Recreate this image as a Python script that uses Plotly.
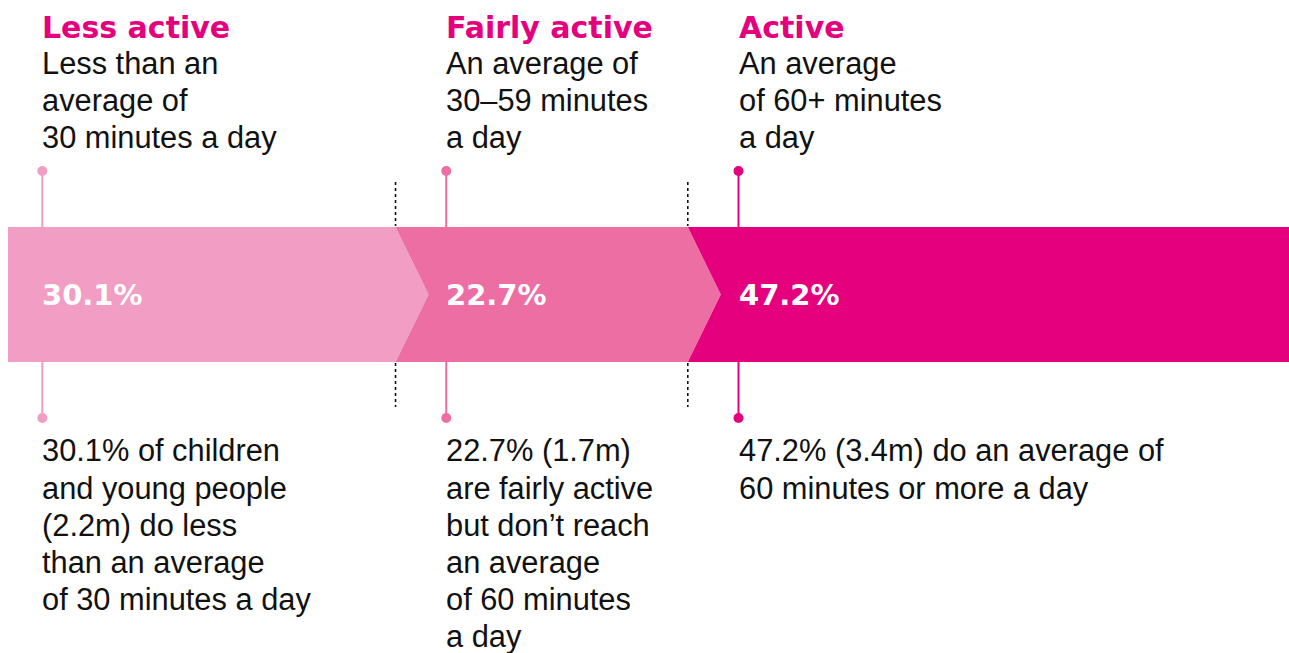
import plotly.graph_objects as go

# ---------------- data ----------------
categories = ["Less active", "Fairly active", "Active"]
shares = [30.1, 22.7, 47.2]
share_labels = ["30.1%", "22.7%", "47.2%"]
descriptions = [
    ["Less than an", "average of", "30 minutes a day"],
    ["An average of", "30–59 minutes", "a day"],
    ["An average", "of 60+ minutes", "a day"],
]
details = [
    ["30.1% of children", "and young people", "(2.2m) do less",
     "than an average", "of 30 minutes a day"],
    ["22.7% (1.7m)", "are fairly active", "but don’t reach",
     "an average", "of 60 minutes", "a day"],
    ["47.2% (3.4m) do an average of", "60 minutes or more a day"],
]
colors = ["#F29DC3", "#EC6EA2", "#E5007E"]
accent = "#E5007E"

# ---------------- layout constants ----------------
W, H = 1289, 653
LEFT_PX = 8
PX_PER_PCT = 12.875
BAND_TOP, BAND_BOT = 227, 362
BAND_MID = (BAND_TOP + BAND_BOT) / 2
NOTCH = 33 / PX_PER_PCT
INSET_FIRST = 34.3 / PX_PER_PCT
INSET_OTHER = 50.7 / PX_PER_PCT
DOT_TOP, DOT_BOT = 171, 418
DOTTED_TOP = (182, 226)
DOTTED_BOT = (363, 407)
TITLE_BASE = 37.5
DESC_BASE = 74
DETAIL_BASE = 461.5
LINE_STEP = 37.1

BODY_FONT = "Liberation Sans, Arial, sans-serif"
BOLD_FONT = "DejaVu Sans, sans-serif"
BODY_SIZE = 30.8

fig = go.Figure()

starts = []
acc = 0.0
for s in shares:
    starts.append(acc)
    acc += s

annotations = []
for i, (cat, share, col) in enumerate(zip(categories, shares, colors)):
    start = starts[i]
    end = start + share
    last = i == len(shares) - 1
    xs, ys = [], []
    xs += [start, end]
    ys += [BAND_TOP, BAND_TOP]
    if not last:
        xs += [end + NOTCH]
        ys += [BAND_MID]
    xs += [end, start]
    ys += [BAND_BOT, BAND_BOT]
    if i > 0:
        xs += [start + NOTCH]
        ys += [BAND_MID]
    xs += [start]
    ys += [BAND_TOP]
    fig.add_trace(go.Scatter(x=xs, y=ys, mode="lines", fill="toself",
                             fillcolor=col, line=dict(width=0, color=col),
                             hoverinfo="skip", showlegend=False))

    mx = start + (INSET_FIRST if i == 0 else INSET_OTHER)
    # stems
    fig.add_trace(go.Scatter(x=[mx, mx, None, mx, mx],
                             y=[DOT_TOP, BAND_TOP, None, BAND_BOT, DOT_BOT],
                             mode="lines", line=dict(color=col, width=2),
                             hoverinfo="skip", showlegend=False))
    fig.add_trace(go.Scatter(x=[mx, mx], y=[DOT_TOP, DOT_BOT], mode="markers",
                             marker=dict(color=col, size=10),
                             hoverinfo="skip", showlegend=False))
    # dotted separators
    if i > 0:
        fig.add_trace(go.Scatter(x=[start, start, None, start, start],
                                 y=[DOTTED_TOP[0], DOTTED_TOP[1], None, DOTTED_BOT[0], DOTTED_BOT[1]],
                                 mode="lines", line=dict(color="#111", width=1.6, dash="dot"),
                                 hoverinfo="skip", showlegend=False))

    # title
    annotations.append(dict(x=mx, y=TITLE_BASE - 10.4, text=f"<b>{cat}</b>",
                            xanchor="left", yanchor="middle", showarrow=False,
                            xshift=-2,
                            font=dict(family=BOLD_FONT, size=30, color=accent)))
    for k, line in enumerate(descriptions[i]):
        annotations.append(dict(x=mx, y=DESC_BASE + k * LINE_STEP - 10.6, text=line,
                                xanchor="left", yanchor="middle", showarrow=False,
                                xshift=-2,
                                font=dict(family=BODY_FONT, size=BODY_SIZE, color="#111")))
    for k, line in enumerate(details[i]):
        annotations.append(dict(x=mx, y=DETAIL_BASE + k * LINE_STEP - 10.6, text=line,
                                xanchor="left", yanchor="middle", showarrow=False,
                                xshift=-2,
                                font=dict(family=BODY_FONT, size=BODY_SIZE, color="#111")))
    annotations.append(dict(x=mx, y=BAND_MID, text=f"<b>{share_labels[i]}</b>",
                            xanchor="left", yanchor="middle", showarrow=False,
                            xshift=-2,
                            font=dict(family=BOLD_FONT, size=29, color="white")))

fig.update_layout(
    width=W, height=H,
    margin=dict(l=0, r=0, t=0, b=0),
    paper_bgcolor="white", plot_bgcolor="white",
    xaxis=dict(range=[-LEFT_PX / PX_PER_PCT, (W - LEFT_PX) / PX_PER_PCT],
               visible=False, fixedrange=True),
    yaxis=dict(range=[H, 0], visible=False, fixedrange=True),
    annotations=annotations,
    showlegend=False,
)

fig.write_html(
    "out.html",
    config={"responsive": False, "displayModeBar": False},
    post_script="document.body.style.margin='0';document.documentElement.style.overflow='hidden';",
)
